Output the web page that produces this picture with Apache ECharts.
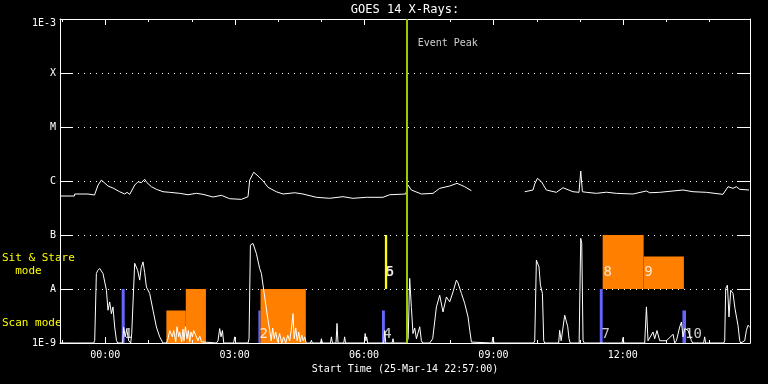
<!DOCTYPE html>
<html>
<head>
<meta charset="utf-8">
<script src="https://cdn.jsdelivr.net/npm/echarts@6/dist/echarts.min.js"></script>
<style>html,body{margin:0;padding:0;background:#000;}#c{width:768px;height:384px;}</style>
</head>
<body>
<div id="c"></div>
<script>
// ---- data (time = minutes after start 25-Mar-14 22:57:00) ----
var startClock = 22 * 60 + 57;
var xMax = 960;
var majorTickTimes = [63, 243, 423, 603, 783];
var minorTickTimes = [3, 123, 183, 303, 363, 483, 543, 663, 723, 843, 903];
var decades = [1e-9, 1e-8, 1e-7, 1e-6, 1e-5, 1e-4, 1e-3];
var yTickLabels = { '-9': '1E-9', '-8': 'A', '-7': 'B', '-6': 'C', '-5': 'M', '-4': 'X', '-3': '1E-3' };
var eventPeakTime = 483;

var longTime = [1, 20, 20.5, 39, 40, 48, 52.9, 57.6, 59.9, 66.8, 73.7, 83, 90, 93.3, 97, 104, 108.6, 113.2, 117.8, 121, 127.2, 134.1, 143.4, 152.6, 166.5, 178, 189.8, 199, 212.9, 224.5, 236.1, 252.4, 261.6, 263.9, 269.5, 275.5, 282.4, 289.4, 301, 310.3, 326.5, 338.1, 356.7, 375.2, 393.7, 407.6, 426.3, 449.4, 458.7, 481, 484.2, 488.9, 502.8, 519, 528.3, 542.2, 552.4, 563, 572.4, 573, 646.6, 658.1, 660.5, 664.2, 669.8, 676.7, 690.6, 699.8, 713.7, 722.1, 724.5, 726.8, 732.4, 746.3, 760.2, 774.1, 797.2, 815.8, 820.5, 834.4, 852.9, 866.8, 880.7, 899.3, 922.4, 929.4, 936.4, 941, 945.7, 958.6];
var longFlux = [5.27e-7, 5.27e-7, 5.74e-7, 5.74e-7, 5.6e-7, 5.5e-7, 8.4e-7, 1.04e-6, 1.04e-6, 8.07e-7, 7.41e-7, 6.33e-7, 5.74e-7, 6.17e-7, 5.66e-7, 8.43e-7, 9.7e-7, 9.3e-7, 1.08e-6, 9.3e-7, 7.84e-7, 7.02e-7, 6.33e-7, 6.17e-7, 5.91e-7, 5.57e-7, 5.91e-7, 5.66e-7, 5.05e-7, 5.43e-7, 4.7e-7, 4.57e-7, 5.12e-7, 1.04e-6, 1.45e-6, 1.24e-6, 1.01e-6, 7.64e-7, 6.33e-7, 5.74e-7, 6.06e-7, 5.74e-7, 4.99e-7, 4.78e-7, 5.12e-7, 4.78e-7, 4.99e-7, 4.99e-7, 5.57e-7, 5.74e-7, 8.43e-7, 6.81e-7, 5.74e-7, 5.91e-7, 7.32e-7, 8.07e-7, 9.06e-7, 7.84e-7, 6.61e-7, null, 6.33e-7, 6.81e-7, 8.8e-7, 1.12e-6, 9.7e-7, 6.81e-7, 6.17e-7, 7.51e-7, 6.33e-7, 6.17e-7, 1.53e-6, 6.33e-7, 6.17e-7, 5.91e-7, 6.2e-7, 5.91e-7, 5.74e-7, 6.53e-7, 6.06e-7, 6.17e-7, 6.53e-7, 6.81e-7, 6.33e-7, 6.17e-7, 5.66e-7, 7.84e-7, 7.32e-7, 7.84e-7, 7.02e-7, 6.81e-7];

var shortTime = [1, 20, 23, 24.2, 26, 31, 32, 33, 46.9, 48.3, 50.6, 52.5, 55.2, 59.8, 64.6, 66.8, 69.1, 71.5, 73.7, 76.1, 78.5, 80.3, 87.2, 88.6, 90.7, 92.8, 95.6, 98.4, 99.8, 103.9, 106.3, 108.1, 110.9, 113, 115.5, 117.8, 120.2, 124.8, 129.4, 134.1, 138.7, 143.3, 148, 150.3, 152.6, 155, 156.4, 158.2, 161, 162.8, 165.2, 166.5, 169.3, 171.1, 172.5, 174.5, 176.7, 178.6, 180.5, 182.3, 184.2, 186, 189.8, 192, 194.4, 196.7, 199, 217.6, 219.8, 222.2, 224, 226, 227.8, 241.6, 243, 244.4, 261.6, 263, 264.9, 268.5, 273.3, 277.8, 280.2, 284.8, 289.4, 291.8, 293.9, 295.9, 298, 300.1, 302.8, 305.6, 308.5, 311.2, 314, 316.8, 319.6, 321.7, 324.2, 325.8, 328, 330, 332.1, 334.2, 336.3, 338.4, 340.4, 342.5, 348.5, 349.8, 351, 362.5, 363.7, 365, 376.3, 377.6, 379, 384, 385.4, 386.8, 394.8, 396, 397.3, 423.4, 424.6, 425.6, 426.7, 428, 450.4, 451.8, 453.2, 462, 463.3, 464.6, 482, 484.4, 486.5, 488.9, 491.1, 493.5, 495.9, 500.5, 502.8, 504.6, 514.4, 518.5, 523.7, 528.3, 532.9, 537.6, 542.2, 546.8, 551.5, 553.7, 558.5, 563, 567.7, 570.1, 572.4, 574.2, 601, 602.4, 603.8, 659, 660.5, 662.8, 666.4, 668.4, 671.2, 673, 674.4, 693.8, 695.2, 697.3, 702.2, 704.5, 706.4, 708.2, 709.8, 722.3, 723, 724.5, 725.9, 727.7, 729.3, 761, 762.4, 763.8, 782, 783.3, 784.6, 813.5, 815.9, 818.1, 825.1, 827.4, 830.6, 834.4, 843.7, 853, 855.2, 857.6, 862.2, 864.6, 866.8, 869.2, 873.8, 878.5, 880.3, 895.5, 896.9, 898.3, 923.4, 924.8, 926.2, 928.6, 930.8, 933.2, 936.4, 939.1, 943.3, 945.7, 947.1, 952.6, 955, 957.2, 959.6];
var shortFlux = [1e-9, 1e-9, 1e-9, 1.04e-9, 1e-9, 1e-9, 1.04e-9, 1e-9, 1e-9, 1.12e-9, 1.94e-8, 2.2e-8, 2.4e-8, 1.94e-8, 9.5e-9, 4.04e-9, 5.77e-9, 3.5e-9, 4.66e-9, 1.98e-9, 1.12e-9, 1e-9, 1e-9, 1.96e-9, 1.3e-9, 1.8e-9, 1.1e-9, 1e-9, 1.5e-9, 3.0e-8, 3.18e-8, 2.2e-8, 1.46e-8, 2.5e-8, 3.18e-8, 2.0e-8, 1.09e-8, 8.26e-9, 4.04e-9, 1.98e-9, 1.3e-9, 1e-9, 1e-9, 1.2e-9, 1.7e-9, 1.85e-9, 1.3e-9, 1.7e-9, 1.05e-9, 2.0e-9, 1.3e-9, 1.6e-9, 1.05e-9, 1.8e-9, 1.1e-9, 2.0e-9, 1.2e-9, 1.7e-9, 1.05e-9, 1.6e-9, 1.3e-9, 1.7e-9, 1.3e-9, 1.1e-9, 1.35e-9, 1.05e-9, 1e-9, 1e-9, 1.1e-9, 1.85e-9, 1.3e-9, 1.7e-9, 1e-9, 1e-9, 1.3e-9, 1e-9, 1e-9, 1.2e-9, 6.5e-8, 6.98e-8, 4.5e-8, 2.4e-8, 1.94e-8, 7.1e-9, 2.64e-9, 1.7e-9, 1.1e-9, 1.9e-9, 1.2e-9, 1.6e-9, 1.05e-9, 1.5e-9, 1e-9, 1.3e-9, 1e-9, 1.4e-9, 1.1e-9, 1.7e-9, 3.5e-9, 1.2e-9, 1.9e-9, 1.1e-9, 1.6e-9, 1.05e-9, 1.4e-9, 1.1e-9, 1.3e-9, 1e-9, 1e-9, 1.12e-9, 1e-9, 1e-9, 1.2e-9, 1e-9, 1e-9, 1.3e-9, 1e-9, 1e-9, 2.3e-9, 1e-9, 1e-9, 1.3e-9, 1e-9, 1e-9, 1.5e-9, 1.1e-9, 1.3e-9, 1e-9, 1e-9, 1.7e-9, 1e-9, 1e-9, 1.2e-9, 1e-9, 1e-9, 1.2e-9, 1.57e-8, 4.5e-9, 1.5e-9, 1.9e-9, 1.2e-9, 2e-9, 1.1e-9, 1e-9, 1e-9, 1.2e-9, 4.66e-9, 7.67e-9, 3.75e-9, 7.13e-9, 5.77e-9, 8.84e-9, 1.46e-8, 1.3e-8, 8.26e-9, 5.45e-9, 3.04e-9, 1.72e-9, 1.04e-9, 1e-9, 1e-9, 1.29e-9, 1e-9, 1e-9, 1.1e-9, 3.42e-8, 2.57e-8, 1.18e-8, 8.26e-9, 1.1e-9, 1e-9, 1e-9, 1.72e-9, 1.1e-9, 3.27e-9, 3.5e-9, 2e-9, 1.2e-9, 1e-9, 1e-9, 4.66e-9, 8.65e-8, 6.98e-8, 1.12e-9, 1e-9, 1e-9, 1.04e-9, 1e-9, 1e-9, 1.26e-9, 1e-9, 1e-9, 4.66e-9, 1.1e-9, 1.6e-9, 1.2e-9, 1.7e-9, 1.1e-9, 1.1e-9, 1.45e-9, 1e-9, 1.1e-9, 1.98e-9, 2.45e-9, 1.3e-9, 1.85e-9, 1.72e-9, 1.1e-9, 1e-9, 1e-9, 1.3e-9, 1e-9, 1e-9, 1.1e-9, 1.02e-8, 1.18e-8, 3.04e-9, 9.5e-9, 8.26e-9, 4.35e-9, 2.13e-9, 1.1e-9, 1e-9, 1.1e-9, 1.72e-9, 2.13e-9, 1.98e-9];

// observation bars
var obsStart = [85.8, 148, 175, 276, 279, 448, 452, 751, 755, 812, 866];
var obsEnd   = [90, 175, 203, 279, 342, 452, 455.2, 755, 812, 868, 871];
var obsLow   = [1e-9, 1e-9, 1e-9, 1e-9, 1e-9, 1e-9, 1e-8, 1e-9, 1e-8, 1e-8, 1e-9];
var obsHigh  = [1e-8, 4e-9, 1e-8, 4e-9, 1e-8, 4e-9, 1e-7, 1e-8, 1e-7, 4e-8, 4e-9];
var obsKind  = ['scan', 'long', 'long', 'scan', 'long', 'scan', 'stare', 'scan', 'long', 'long', 'scan'];

// observation number labels
var labelText  = ['1', '2', '4', '5', '6', '7', '8', '9', '10'];
var labelTime  = [88.6, 277, 449, 452, 452.5, 752.7, 755.5, 812, 869];
var labelLevel = [1.47e-9, 1.47e-9, 1.47e-9, 2.07e-8, 2.07e-8, 1.47e-9, 2.07e-8, 2.07e-8, 1.47e-9];

// ---- chart ----
var kindColor = { scan: '#6666ff', long: '#ff8000', stare: '#ffff00' };
var FONT = '"DejaVu Sans Mono", monospace';

function zip(a, b) { return a.map(function (t, i) { return [t, b[i]]; }); }
function clock(v) {
  var t = Math.round(startClock + v);
  var h = Math.floor(t / 60) % 24, m = t % 60;
  return (h < 10 ? '0' : '') + h + ':' + (m < 10 ? '0' : '') + m;
}

var obsData = obsStart.map(function (s, i) { return [s, obsEnd[i], obsLow[i], obsHigh[i], i]; });
var labData = labelTime.map(function (t, i) { return [t, labelLevel[i], labelText[i]]; });

// tick marks: kind 0 = major time, 1 = minor time, 2 = decade
var tickData = [];
majorTickTimes.forEach(function (t) { tickData.push([t, 1e-9, 0]); });
minorTickTimes.forEach(function (t) { tickData.push([t, 1e-9, 1]); });
decades.forEach(function (v) { tickData.push([0, v, 2]); });

function plainX(pos, labels) {
  return {
    type: 'value', position: pos, min: 0, max: xMax,
    axisLine: { show: true, onZero: false, lineStyle: { color: '#fff', width: 1 } },
    axisTick: { show: false },
    axisLabel: labels ? { show: true, customValues: majorTickTimes, formatter: clock, color: '#fff', fontFamily: FONT, fontSize: 10, margin: 7 } : { show: false },
    splitLine: { show: false }
  };
}
function plainY(pos, labels) {
  return {
    type: 'log', logBase: 10, min: 1e-9, max: 1e-3, interval: 1, position: pos,
    axisLine: { show: true, onZero: false, lineStyle: { color: '#fff', width: 1 } },
    axisTick: { show: false },
    axisLabel: labels ? {
      show: true, color: '#fff', fontFamily: FONT, fontSize: 10, margin: 4,
      formatter: function (v) {
        var k = Math.round(Math.log10(v));
        var s = yTickLabels[String(k)] || '';
        return k === -3 ? '{top|' + s + '}' : s;
      },
      rich: { top: { color: '#fff', fontFamily: FONT, fontSize: 10, padding: [8, 0, 0, 0] } }
    } : { show: false },
    splitLine: labels ? { show: true, lineStyle: { color: '#fff', width: 1, type: [1, 5] } } : { show: false },
    minorTick: { show: false }
  };
}

var chart = echarts.init(document.getElementById('c'), null, { renderer: 'canvas' });
var bottomX = plainX('bottom', true);
bottomX.name = 'Start Time (25-Mar-14 22:57:00)';
bottomX.nameLocation = 'middle';
bottomX.nameGap = 20;
bottomX.nameTextStyle = { color: '#fff', fontFamily: FONT, fontSize: 10 };

chart.setOption({
  backgroundColor: '#000',
  animation: false,
  title: {
    text: 'GOES 14 X-Rays:', left: 405, top: 4, padding: 0, textAlign: 'center',
    textStyle: { color: '#fff', fontFamily: FONT, fontSize: 12, fontWeight: 'normal' }
  },
  grid: { left: 60, top: 19, width: 690, height: 324, containLabel: false, outerBoundsMode: 'none' },
  xAxis: [bottomX, plainX('top', false)],
  yAxis: [plainY('left', true), plainY('right', false)],
  graphic: [
    { type: 'text', left: 2, top: 252, style: { text: 'Sit & Stare\n  mode', fill: '#ffff00', font: '11px ' + FONT, lineHeight: 13 } },
    { type: 'text', left: 2, top: 318, style: { text: 'Scan mode', fill: '#ffff00', font: '11px ' + FONT } }
  ],
  series: [
    {
      type: 'custom', xAxisIndex: 0, yAxisIndex: 0, data: obsData, z: 1,
      encode: { x: [0, 1], y: [2, 3] },
      renderItem: function (params, api) {
        var p1 = api.coord([api.value(0), api.value(3)]);
        var p2 = api.coord([api.value(1), api.value(2)]);
        return { type: 'rect', shape: { x: p1[0], y: p1[1], width: p2[0] - p1[0], height: p2[1] - p1[1] },
                 style: { fill: kindColor[obsKind[api.value(4)]] } };
      }
    },
    {
      type: 'custom', xAxisIndex: 0, yAxisIndex: 0, data: tickData, z: 4, clip: false, silent: true,
      renderItem: function (params, api) {
        var kind = api.value(2);
        var st = { stroke: '#fff', lineWidth: 1 };
        if (kind === 2) {
          var a = api.coord([0, api.value(1)]), b = api.coord([xMax, api.value(1)]);
          var y = Math.round(a[1]) + 0.5;
          return { type: 'group', children: [
            { type: 'line', shape: { x1: a[0], y1: y, x2: a[0] + 13, y2: y }, style: st },
            { type: 'line', shape: { x1: b[0], y1: y, x2: b[0] - 13, y2: y }, style: st }
          ] };
        }
        var len = kind === 0 ? 6 : 3;
        var lo = api.coord([api.value(0), 1e-9]), hi = api.coord([api.value(0), 1e-3]);
        var x = Math.round(lo[0]) + 0.5;
        return { type: 'group', children: [
          { type: 'line', shape: { x1: x, y1: lo[1], x2: x, y2: lo[1] - len }, style: st },
          { type: 'line', shape: { x1: x, y1: hi[1], x2: x, y2: hi[1] + len }, style: st }
        ] };
      }
    },
    {
      type: 'line', data: zip(longTime, longFlux), showSymbol: false, connectNulls: false, z: 3,
      lineStyle: { color: '#fff', width: 1 }, itemStyle: { color: '#fff' }
    },
    {
      type: 'line', data: zip(shortTime, shortFlux), showSymbol: false, z: 3,
      lineStyle: { color: '#fff', width: 1 }, itemStyle: { color: '#fff' }
    },
    {
      type: 'scatter', data: labData, symbolSize: 1, z: 5,
      itemStyle: { color: 'rgba(0,0,0,0)' },
      label: { show: true, position: 'right', distance: 0, color: '#fff', fontFamily: FONT, fontSize: 14,
               formatter: function (p) { return p.data[2]; } }
    },
    {
      type: 'scatter', data: [[eventPeakTime, 3.6e-4]], symbolSize: 1, z: 6,
      itemStyle: { color: 'rgba(0,0,0,0)' },
      label: { show: true, position: 'right', distance: 10, color: '#fff', fontFamily: FONT, fontSize: 10, formatter: 'Event Peak' },
      markLine: {
        silent: true, symbol: ['none', 'none'], label: { show: false },
        lineStyle: { color: '#9ccc00', width: 2, type: 'solid' },
        data: [{ xAxis: eventPeakTime }]
      }
    }
  ]
});
</script>
</body>
</html>
